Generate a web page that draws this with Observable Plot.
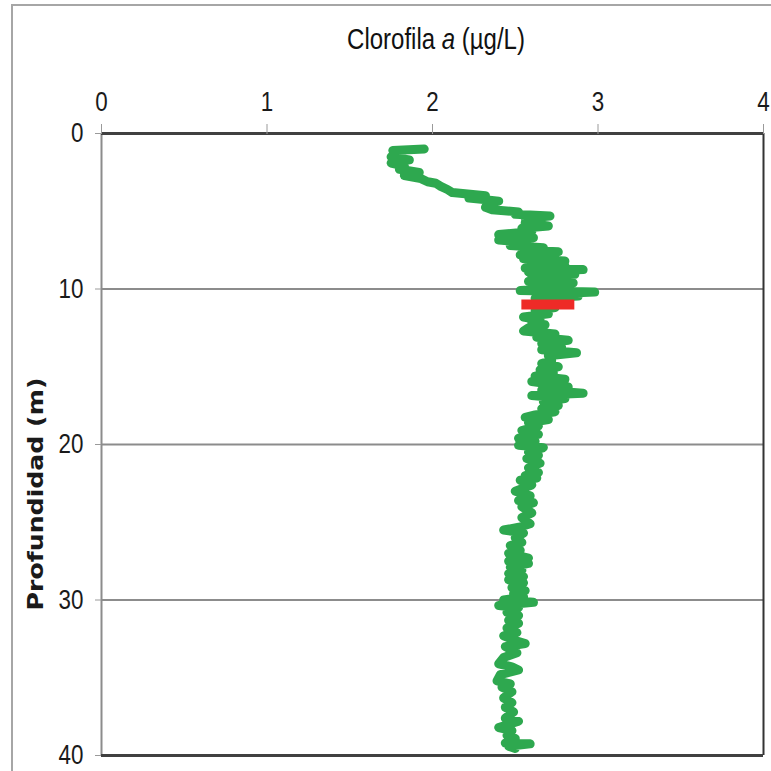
<!DOCTYPE html>
<html>
<head>
<meta charset="utf-8">
<script src="https://cdn.jsdelivr.net/npm/d3@7"></script>
<script src="https://cdn.jsdelivr.net/npm/@observablehq/plot@0.6"></script>
<style>
  html, body { margin: 0; padding: 0; background: #fff; }
  #wrap { position: relative; width: 771px; height: 771px; overflow: hidden; }
  #border { position: absolute; left: 11px; top: 4px; width: 900px; height: 900px;
            border-top: 2px solid #a6a6a6; border-left: 2px solid #a6a6a6; pointer-events: none; }
</style>
</head>
<body>
<div id="wrap"><div id="border"></div></div>
<script>
// Axis ticks
const xTicks = [0, 1, 2, 3, 4];
const yTicks = [0, 10, 20, 30, 40];
const gridDepths = [10, 20, 30];

// Chlorophyll-a profile (depth in m, concentration in µg/L)
const depths = [
  1.0, 1.1, 1.3, 1.5, 1.7, 1.9, 2.1, 2.3, 2.5, 2.7, 2.9, 3.1, 3.2, 3.4, 3.6, 3.8,
  4.0, 4.15, 4.35, 4.55, 4.75, 4.9, 5.05, 5.2, 5.3, 5.45, 5.6, 5.75, 5.95, 6.1, 6.3,
  6.5, 6.7, 6.85, 7.0, 7.2, 7.35, 7.5, 7.6, 7.8, 7.95, 8.05, 8.2, 8.35, 8.5, 8.65,
  8.75, 8.9, 9.05, 9.2, 9.35, 9.5, 9.6, 9.8, 9.95, 10.1, 10.2, 10.35, 10.45, 10.6,
  10.8, 11.0, 11.2, 11.4, 11.6, 11.8, 12.0, 12.15, 12.3, 12.5, 12.7, 12.9, 13.1,
  13.3, 13.5, 13.75, 13.9, 14.1, 14.3, 14.6, 14.8, 15.0, 15.2, 15.4, 15.6, 15.8,
  15.95, 16.1, 16.3, 16.5, 16.7, 16.85, 17.05, 17.25, 17.5, 17.7, 17.9, 18.1, 18.25,
  18.4, 18.6, 18.8, 19.1, 19.35, 19.6, 19.8, 20.05, 20.2, 20.5, 20.7, 20.9, 21.2,
  21.5, 21.8, 22.0, 22.15, 22.3, 22.6, 23.0, 23.3, 23.6, 23.75, 24.0, 24.4, 24.7,
  25.1, 25.3, 25.5, 25.7, 26.0, 26.3, 26.5, 26.8, 27.0, 27.3, 27.5, 27.65, 27.9,
  28.1, 28.3, 28.5, 28.7, 28.9, 29.2, 29.4, 29.6, 29.8, 30.0, 30.15, 30.35, 30.5,
  30.8, 31.0, 31.3, 31.5, 31.8, 32.1, 32.3, 32.6, 32.8, 33.0, 33.4, 33.7, 34.1,
  34.3, 34.5, 34.8, 35.2, 35.4, 35.6, 35.9, 36.3, 36.6, 36.9, 37.2, 37.6, 37.8,
  38.2, 38.4, 38.7, 38.9, 39.2, 39.25, 39.4, 39.55
];
const chl = [
  1.95, 1.76, 1.80, 1.75, 1.86, 1.75, 1.83, 1.80, 1.92, 1.83, 1.93, 1.97, 2.02, 2.05, 2.09, 2.12,
  2.32, 2.22, 2.40, 2.33, 2.32, 2.36, 2.52, 2.50, 2.71, 2.56, 2.64, 2.56, 2.70, 2.54, 2.60,
  2.40, 2.61, 2.40, 2.55, 2.47, 2.67, 2.55, 2.76, 2.53, 2.60, 2.55, 2.80, 2.60, 2.80, 2.56,
  2.91, 2.58, 2.86, 2.60, 2.82, 2.58, 2.85, 2.62, 2.80, 2.53, 2.98, 2.63, 2.88, 2.62,
  2.70, 2.62, 2.74, 2.62, 2.70, 2.55, 2.65, 2.60, 2.68, 2.58, 2.55, 2.74, 2.63,
  2.82, 2.66, 2.78, 2.66, 2.87, 2.70, 2.72, 2.66, 2.76, 2.65, 2.73, 2.62, 2.80,
  2.60, 2.70, 2.82, 2.66, 2.91, 2.60, 2.80, 2.67, 2.76, 2.66, 2.74, 2.62, 2.56,
  2.70, 2.58, 2.64, 2.54, 2.64, 2.52, 2.62, 2.52, 2.67, 2.58, 2.64, 2.57, 2.65,
  2.58, 2.64, 2.56, 2.63, 2.53, 2.60, 2.50, 2.59, 2.52, 2.61, 2.54, 2.60, 2.54,
  2.59, 2.53, 2.43, 2.55, 2.50, 2.54, 2.47, 2.53, 2.46, 2.58, 2.46, 2.58, 2.47,
  2.54, 2.46, 2.55, 2.46, 2.55, 2.48, 2.56, 2.49, 2.55, 2.43, 2.61, 2.40, 2.52,
  2.45, 2.52, 2.46, 2.52, 2.45, 2.51, 2.43, 2.50, 2.56, 2.44, 2.51, 2.43, 2.40,
  2.48, 2.52, 2.41, 2.39, 2.47, 2.42, 2.48, 2.43, 2.48, 2.44, 2.49, 2.44, 2.52,
  2.40, 2.48, 2.45, 2.50, 2.44, 2.59, 2.46, 2.50
];

// Red marker (depth and x-extent)
const markerDepth = [11.0];
const markerFrom = [2.54];
const markerTo = [2.86];

const profile = depths.map((d, i) => ({depth: d, chl: chl[i]}));
const marker = markerDepth.map((d, i) => ({depth: d, x1: markerFrom[i], x2: markerTo[i]}));

const baseFont = '"Liberation Sans", Arial, sans-serif';

const chart = Plot.plot({
  width: 771,
  height: 771,
  marginTop: 133,
  marginLeft: 101,
  marginRight: 8,
  marginBottom: 16,
  x: {domain: [0, 4]},
  y: {domain: [0, 40], reverse: true},
  style: {fontFamily: baseFont, fontSize: "28px", background: "transparent", overflow: "visible"},
  marks: [
    Plot.ruleY(gridDepths, {stroke: "#8c8c8c", strokeWidth: 2}),
    Plot.ruleX([xTicks[0]], {stroke: "#8c8c8c", strokeWidth: 2}),
    Plot.ruleX([xTicks[xTicks.length - 1]], {stroke: "#333", strokeWidth: 2}),
    Plot.ruleY([yTicks[0], yTicks[yTicks.length - 1]], {stroke: "#404040", strokeWidth: 3}),
    Plot.axisX({anchor: "top", ticks: xTicks, tickSize: 10, tickPadding: 13, label: null,
                stroke: "#9a9a9a", fill: "#1a1a1a", tickFormat: d => String(d)}),
    Plot.axisY({anchor: "left", ticks: yTicks, tickSize: 6, tickPadding: 12, label: null,
                stroke: "#9a9a9a", fill: "#1a1a1a", tickFormat: d => String(d)}),
    Plot.line(profile, {x: "chl", y: "depth", stroke: "#2ea84f", strokeWidth: 9,
                        strokeLinejoin: "round", strokeLinecap: "round", curve: "linear"}),
    Plot.ruleY(marker, {y: "depth", x1: "x1", x2: "x2", stroke: "#ee2b27", strokeWidth: 10})
  ]
});

const svg = d3.select(chart);

// Condense the tick labels horizontally (narrow, tall digits as in the original)
const isNum = v => v != null && v !== "" && /^-?[\d.]+$/.test(v.trim());
svg.selectAll('g[aria-label="x-axis tick label"] text, g[aria-label="y-axis tick label"] text').each(function () {
  const t = this.getAttribute("transform") || "";
  const xa = this.getAttribute("x");
  const ya = this.getAttribute("y");
  let x = 0, y = 0;
  if (isNum(xa)) { x = +xa; this.removeAttribute("x"); }
  if (isNum(ya)) { y = +ya; this.removeAttribute("y"); }
  this.setAttribute("transform", `${t} translate(${x},${y}) scale(0.8,1)`);
});

// Title (x-axis label) with italic "a"
const title = svg.append("text")
  .attr("transform", "translate(436,49) scale(0.8,1)")
  .attr("text-anchor", "middle")
  .attr("fill", "#111")
  .style("font-family", baseFont)
  .style("font-size", "30px");
title.append("tspan").text("Clorofila ");
title.append("tspan").attr("font-style", "italic").text("a");
title.append("tspan").text(" (µg/L)");

// Y-axis label
svg.append("text")
  .attr("transform", "translate(35,494) rotate(-90) scale(1.2,1)")
  .attr("text-anchor", "middle")
  .attr("dominant-baseline", "central")
  .attr("fill", "#1a1a1a")
  .style("font-family", '"DejaVu Sans", sans-serif')
  .style("font-weight", "bold")
  .style("font-size", "21px")
  .text("Profundidad (m)");

document.getElementById("wrap").prepend(chart);
chart.style.position = "absolute";
chart.style.left = "0px";
chart.style.top = "0px";
</script>
</body>
</html>
